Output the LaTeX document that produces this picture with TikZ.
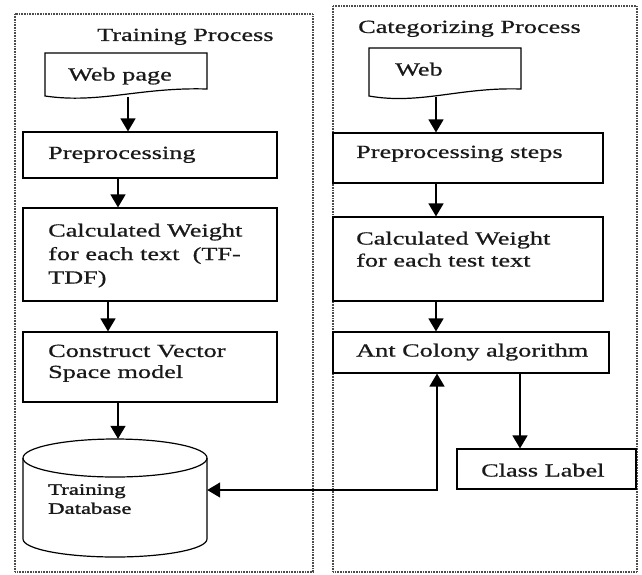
\documentclass[tikz,border=0pt]{standalone}
\usepackage{fontspec}
\setmainfont{Liberation Serif}[FakeStretch=1.42,FakeBold=0.7]
\newfontfamily\dbfont{Liberation Serif}[FakeStretch=1.42,FakeBold=1.6]
\usetikzlibrary{arrows.meta,calc}
\begin{document}
\begin{tikzpicture}[x=1pt,y=-1pt,
  frame/.style={draw=black!70,line width=1.2pt,dash pattern=on 0.8pt off 0.8pt},
  box/.style={draw,line width=1.2pt,inner sep=0pt},
  hidden/.style={inner sep=0pt},
  arr/.style={line width=1.5pt,-{Triangle[width=15pt,length=13pt]}},
  biarr/.style={line width=1.5pt,{Triangle[width=15pt,length=13pt]}-{Triangle[width=15pt,length=13pt]}},
  txt/.style={inner sep=0pt,anchor=north west,align=left,text=black!90,
    font=\fontsize{18.5}{23.5}\selectfont},
  smalltxt/.style={txt,font=\dbfont\fontsize{16}{19}\selectfont}]
\useasboundingbox (0,0) rectangle (642,574);

% dotted frames of the two processes
\draw[frame] (15,14) rectangle (313,572);
\draw[frame] (333,6) rectangle (637,572);

\node[txt] (ttl1) at (97,28.5) {Training Process};
\node[txt] (ttl2) at (358,20.5) {Categorizing Process};

% ---------- training column ----------
\node[hidden,minimum width=162pt,minimum height=44pt] (web1) at (126,75) {};
\draw[line width=1.2pt] (45,53) -- (207,53) -- (207,89)
  .. controls (140,87) and (100,104) .. (45,96) -- cycle;
\node[txt] (web1t) at (68,67.5) {Web page};

\node[box,minimum width=254pt,minimum height=46pt] (prep1) at (150,155) {};
\node[txt] (prep1t) at (48,146.5) {Preprocessing};

\node[box,minimum width=254pt,minimum height=93pt] (calc1) at (150,254.5) {};
\node[txt] (calc1t) at (48,223.5) {Calculated Weight\\for each text~~(TF-\\TDF)};

\node[box,minimum width=254pt,minimum height=70pt] (vec) at (150,367) {};
\node[txt,font=\fontsize{18.5}{21}\selectfont] (vect) at (48,344.5) {Construct Vector\\Space model};

% database cylinder
\node[hidden,minimum width=184pt,minimum height=118pt] (db) at (115,498) {};
\draw[line width=1.2pt] (115,458) ellipse [x radius=92pt, y radius=19pt];
\draw[line width=1.2pt] (23,458) -- (23,539)
  arc[start angle=180,end angle=360,x radius=92pt,y radius=18pt] -- (207,458);
\node[smalltxt] (dbt) at (48,484) {Training\\Database};

% ---------- categorizing column ----------
\node[hidden,minimum width=152pt,minimum height=49pt] (web2) at (445,72.5) {};
\draw[line width=1.2pt] (369,48) -- (521,48) -- (521,89)
  .. controls (460,87) and (420,105) .. (369,96) -- cycle;
\node[txt] (web2t) at (395,62.5) {Web};

\node[box,minimum width=270pt,minimum height=50pt] (prep2) at (468,158) {};
\node[txt] (prep2t) at (356,145.5) {Preprocessing steps};

\node[box,minimum width=270pt,minimum height=84pt] (calc2) at (468,259) {};
\node[txt,font=\fontsize{18.5}{22}\selectfont] (calc2t) at (356,231.5) {Calculated Weight\\for each test text};

\node[box,minimum width=276pt,minimum height=41pt] (ant) at (471,352.5) {};
\node[txt] (antt) at (356,343.5) {Ant Colony algorithm};

\node[box,minimum width=179pt,minimum height=40pt] (cls) at (546.5,469) {};
\node[txt] (clst) at (481,463.5) {Class Label};

% ---------- connectors ----------
\coordinate (a1) at (128,0);
\coordinate (a2) at (118,0);
\coordinate (a3) at (108,0);
\coordinate (ar) at (436,0);
\coordinate (ac) at (520,0);
\coordinate (bend) at (437,490);

\draw[arr] (web1.south -| a1) -- (prep1.north -| a1);
\draw[arr] (prep1.south -| a2) -- (calc1.north -| a2);
\draw[arr] (calc1.south -| a3) -- (vec.north -| a3);
\draw[arr] (vec.south -| a2) -- (db.north -| a2);

\draw[arr] (web2.south -| ar) -- (prep2.north -| ar);
\draw[arr] (prep2.south -| ar) -- (calc2.north -| ar);
\draw[arr] (calc2.south -| ar) -- (ant.north -| ar);
\draw[arr] (ant.south -| ac) -- (cls.north -| ac);

\draw[biarr] (db.east |- bend) -- (bend) -- (bend |- ant.south);
\end{tikzpicture}
\end{document}
